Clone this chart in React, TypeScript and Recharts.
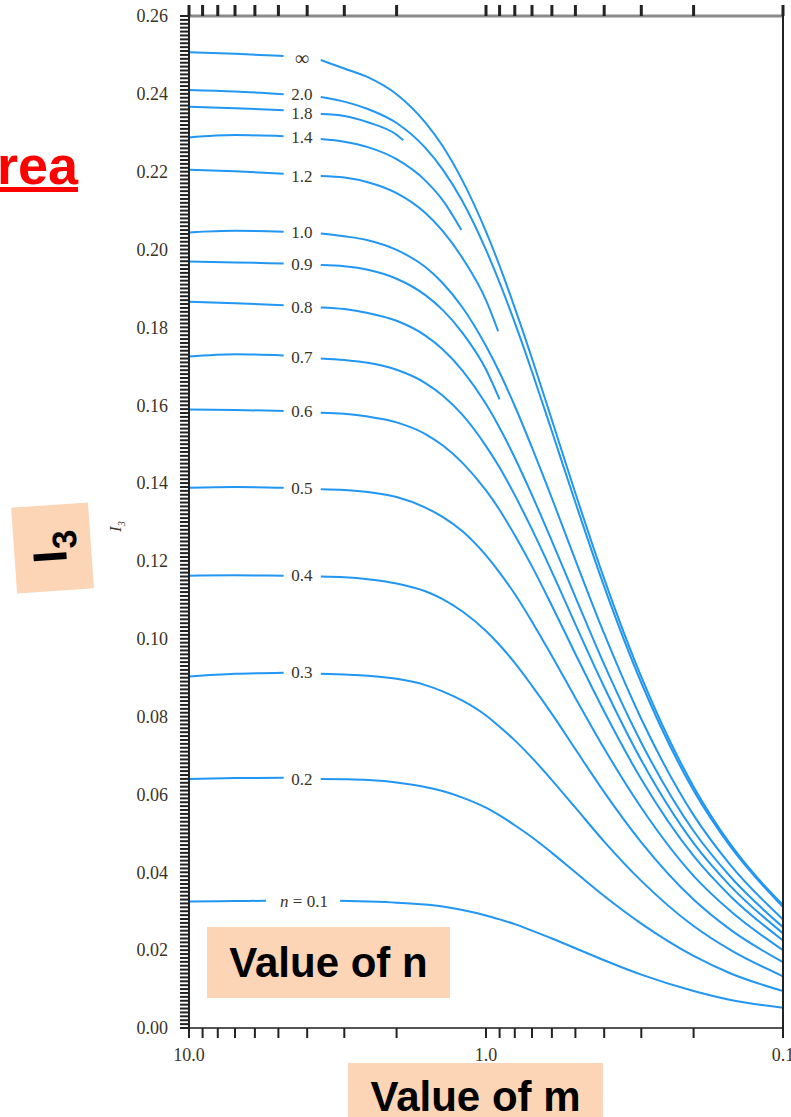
import React from 'react';
import { ComposedChart, Line, Scatter, XAxis, YAxis } from 'recharts';

// m values (log axis, 10 -> 0.1)
const M_LEFT = [10, 7, 4.8];
const M_RIGHT = [3.6, 3, 2.5, 2, 1.6, 1.4, 1.2, 1.0, 0.9, 0.8, 0.7, 0.6, 0.5, 0.4, 0.3, 0.2, 0.15, 0.1];
const M_RIGHT_18 = [3.6, 3, 2.5, 2, 1.9];
const M_RIGHT_14 = [3.6, 3, 2.5, 2, 1.6, 1.4, 1.21];
const M_RIGHT_12 = [3.6, 3, 2.5, 2, 1.6, 1.4, 1.2, 1.0, 0.91];
const M_RIGHT_09 = [3.6, 3, 2.5, 2, 1.6, 1.4, 1.2, 1.0, 0.9];
const M_LEFT_01 = [10, 7, 5.5];
const M_RIGHT_01 = [3.1, 2.5, 2, 1.6, 1.4, 1.2, 1.0, 0.9, 0.8, 0.7, 0.6, 0.5, 0.4, 0.3, 0.2, 0.15, 0.1];

// I3 values, per n
const INF_L = [0.2507, 0.2503, 0.2497];
const INF_R = [0.2487, 0.2465, 0.2443, 0.2399, 0.2326, 0.2266, 0.2177, 0.2046, 0.1958, 0.185, 0.172, 0.1562, 0.1374, 0.1154, 0.0902, 0.062, 0.0471, 0.0316];
const N20_L = [0.241, 0.2406, 0.2399];
const N20_R = [0.2392, 0.238, 0.2361, 0.2325, 0.2261, 0.2206, 0.2124, 0.1999, 0.1915, 0.1812, 0.1686, 0.1533, 0.135, 0.1134, 0.0887, 0.061, 0.0465, 0.0311];
const N18_L = [0.2367, 0.2363, 0.2358];
const N18_R = [0.2348, 0.2343, 0.2327, 0.2295, 0.2281];
const N14_L = [0.2288, 0.2294, 0.2291];
const N14_R = [0.2284, 0.2277, 0.2263, 0.2232, 0.2177, 0.2127, 0.205];
const N12_L = [0.2205, 0.2201, 0.2195];
const N12_R = [0.2189, 0.2185, 0.2173, 0.2145, 0.2094, 0.2048, 0.1978, 0.187, 0.179];
const N10_L = [0.2044, 0.2048, 0.2046];
const N10_R = [0.2041, 0.2034, 0.2024, 0.1999, 0.1955, 0.1914, 0.1851, 0.1752, 0.1684, 0.1598, 0.1491, 0.1361, 0.1202, 0.1013, 0.0794, 0.0547, 0.0418, 0.0279];
const N09_L = [0.1969, 0.1967, 0.1964];
const N09_R = [0.196, 0.1957, 0.1948, 0.1925, 0.1883, 0.1845, 0.1786, 0.1692, 0.1615];
const N08_L = [0.1866, 0.1862, 0.1857];
const N08_R = [0.1851, 0.1847, 0.1837, 0.1817, 0.1779, 0.1744, 0.1689, 0.1603, 0.1542, 0.1465, 0.1369, 0.1251, 0.1107, 0.0934, 0.0733, 0.0506, 0.0388, 0.0259];
const N07_L = [0.1725, 0.1731, 0.1728];
const N07_R = [0.172, 0.1716, 0.1709, 0.1691, 0.1657, 0.1625, 0.1575, 0.1495, 0.144, 0.1369, 0.1281, 0.1172, 0.1037, 0.0876, 0.0688, 0.0475, 0.0364, 0.0243];
const N06_L = [0.1589, 0.1588, 0.1585];
const N06_R = [0.1581, 0.1578, 0.1571, 0.1556, 0.1526, 0.1497, 0.1452, 0.1381, 0.1331, 0.1266, 0.1186, 0.1085, 0.0961, 0.0813, 0.0639, 0.0442, 0.0338, 0.0225];
const N05_L = [0.1388, 0.139, 0.1388];
const N05_R = [0.1384, 0.1382, 0.1377, 0.1364, 0.1337, 0.1313, 0.1276, 0.1214, 0.117, 0.1115, 0.1044, 0.0956, 0.0848, 0.0718, 0.0566, 0.0391, 0.03, 0.02];
const N04_L = [0.1162, 0.1163, 0.1162];
const N04_R = [0.116, 0.1158, 0.1153, 0.1142, 0.1122, 0.1102, 0.107, 0.102, 0.0984, 0.0938, 0.0879, 0.0807, 0.0716, 0.0606, 0.0477, 0.033, 0.0252, 0.0169];
const N03_L = [0.0903, 0.091, 0.0913];
const N03_R = [0.091, 0.0908, 0.0905, 0.0897, 0.0881, 0.0865, 0.0841, 0.0803, 0.0774, 0.0739, 0.0694, 0.0637, 0.0566, 0.0479, 0.0378, 0.0262, 0.02, 0.0133];
const N02_L = [0.064, 0.0642, 0.0643];
const N02_R = [0.064, 0.0639, 0.0637, 0.0631, 0.0619, 0.0609, 0.0592, 0.0566, 0.0546, 0.0521, 0.049, 0.045, 0.04, 0.0339, 0.0268, 0.0185, 0.014, 0.0095];
const N01_L = [0.0325, 0.0326, 0.0327];
const N01_R = [0.0327, 0.0325, 0.0322, 0.0317, 0.0312, 0.0303, 0.0289, 0.0279, 0.0267, 0.025, 0.023, 0.0205, 0.0174, 0.0137, 0.0095, 0.0072, 0.0052];

// curve labels (placed in the gap of each curve)
const LABEL_TEXT = ['∞', '2.0', '1.8', '1.4', '1.2', '1.0', '0.9', '0.8', '0.7', '0.6', '0.5', '0.4', '0.3', '0.2', 'n = 0.1'];
const LABEL_M = [4.17, 4.17, 4.17, 4.17, 4.17, 4.17, 4.17, 4.17, 4.17, 4.17, 4.17, 4.17, 4.17, 4.17, 4.1];
const LABEL_V = [0.2492, 0.2399, 0.2351, 0.2289, 0.2188, 0.2044, 0.1962, 0.1852, 0.1724, 0.1584, 0.1386, 0.1162, 0.0913, 0.064, 0.0327];

const X_TICKS = [10, 9, 8, 7, 6, 5, 4, 3, 2, 1, 0.9, 0.8, 0.7, 0.6, 0.5, 0.4, 0.3, 0.2, 0.1];
const Y_TICKS = Array.from({ length: 261 }, (_, i) => i / 1000);

const CURVES = [
  { id: 'inf', lm: M_LEFT, l: INF_L, rm: M_RIGHT, r: INF_R },
  { id: 'n20', lm: M_LEFT, l: N20_L, rm: M_RIGHT, r: N20_R },
  { id: 'n18', lm: M_LEFT, l: N18_L, rm: M_RIGHT_18, r: N18_R },
  { id: 'n14', lm: M_LEFT, l: N14_L, rm: M_RIGHT_14, r: N14_R },
  { id: 'n12', lm: M_LEFT, l: N12_L, rm: M_RIGHT_12, r: N12_R },
  { id: 'n10', lm: M_LEFT, l: N10_L, rm: M_RIGHT, r: N10_R },
  { id: 'n09', lm: M_LEFT, l: N09_L, rm: M_RIGHT_09, r: N09_R },
  { id: 'n08', lm: M_LEFT, l: N08_L, rm: M_RIGHT, r: N08_R },
  { id: 'n07', lm: M_LEFT, l: N07_L, rm: M_RIGHT, r: N07_R },
  { id: 'n06', lm: M_LEFT, l: N06_L, rm: M_RIGHT, r: N06_R },
  { id: 'n05', lm: M_LEFT, l: N05_L, rm: M_RIGHT, r: N05_R },
  { id: 'n04', lm: M_LEFT, l: N04_L, rm: M_RIGHT, r: N04_R },
  { id: 'n03', lm: M_LEFT, l: N03_L, rm: M_RIGHT, r: N03_R },
  { id: 'n02', lm: M_LEFT, l: N02_L, rm: M_RIGHT, r: N02_R },
  { id: 'n01', lm: M_LEFT_01, l: N01_L, rm: M_RIGHT_01, r: N01_R },
];

const series = CURVES.map(c => ({
  id: c.id,
  data: [
    ...c.l.map((v, i) => ({ m: c.lm[i], v })),
    { m: 4.2, v: null },
    ...c.r.map((v, i) => ({ m: c.rm[i], v })),
  ],
}));

const labelData = LABEL_TEXT.map((text, i) => ({ m: LABEL_M[i], v: LABEL_V[i], text }));

const BLUE = '#2196f3';
const INK = '#3b3326';
const SERIF = '"Liberation Serif", "Times New Roman", serif';
const SANS = '"Liberation Sans", Arial, sans-serif';
const PEACH = '#fbd5b5';

const fmtX = (v: number) => (v === 10 ? '10.0' : v === 1 ? '1.0' : v === 0.1 ? '0.1' : '');
const noLabel = () => '';

const YTick = (props: any) => {
  const { x, y, payload } = props;
  const k = Math.round(payload.value * 1000);
  if (k % 20 !== 0) return <g />;
  return (
    <text x={x} y={y} dy="0.35em" textAnchor="end" fontFamily={SERIF} fontSize={18} fill={INK}>
      {(k / 1000).toFixed(2)}
    </text>
  );
};

const CurveLabel = (props: any) => {
  const { cx, cy, payload } = props;
  if (payload.text === 'n = 0.1') {
    return (
      <text x={cx} y={cy} dy="0.35em" textAnchor="middle" fontFamily={SERIF} fontSize={17} fill={INK}>
        <tspan fontStyle="italic">n</tspan> = 0.1
      </text>
    );
  }
  return (
    <text x={cx} y={cy} dy="0.33em" textAnchor="middle" fontFamily={SERIF} fontSize={payload.text === '∞' ? 20 : 17} fill={INK}>
      {payload.text}
    </text>
  );
};

export default function App() {
  return (
    <div style={{ position: 'absolute', left: 0, top: 0, width: 791, height: 1117, overflow: 'hidden', background: '#fff' }}>
      <ComposedChart width={791} height={1117} margin={{ top: 0, right: 0, bottom: 0, left: 0 }}>
        <XAxis
          xAxisId="b"
          type="number"
          dataKey="m"
          scale="log"
          domain={[0.1, 10]}
          reversed
          allowDataOverflow
          ticks={X_TICKS}
          interval={0}
          height={89}
          tickSize={10}
          tickMargin={10}
          tickFormatter={fmtX}
          tick={{ fontFamily: SERIF, fontSize: 18, fill: INK }}
          axisLine={{ stroke: '#555', strokeWidth: 2 }}
          tickLine={{ stroke: '#222', strokeWidth: 2 }}
        />
        <XAxis
          xAxisId="t"
          orientation="top"
          type="number"
          dataKey="m"
          scale="log"
          domain={[0.1, 10]}
          reversed
          allowDataOverflow
          ticks={X_TICKS}
          interval={0}
          height={16}
          tickSize={11}
          tickFormatter={noLabel}
          axisLine={{ stroke: '#8a8a8a', strokeWidth: 3 }}
          tickLine={{ stroke: '#222', strokeWidth: 3 }}
        />
        <YAxis
          yAxisId="l"
          type="number"
          domain={[0, 0.26]}
          ticks={Y_TICKS}
          interval={0}
          width={189}
          tickSize={9}
          tickMargin={12}
          tick={<YTick />}
          axisLine={{ stroke: '#222', strokeWidth: 2 }}
          tickLine={{ stroke: '#222', strokeWidth: 2 }}
        />
        <YAxis
          yAxisId="r"
          orientation="right"
          type="number"
          domain={[0, 0.26]}
          ticks={Y_TICKS}
          interval={0}
          width={8}
          tickSize={8}
          tickFormatter={noLabel}
          axisLine={{ stroke: '#222', strokeWidth: 2 }}
          tickLine={{ stroke: '#222', strokeWidth: 2 }}
        />
        {series.map(s => (
          <Line
            key={s.id}
            xAxisId="b"
            yAxisId="l"
            data={s.data}
            dataKey="v"
            type="monotone"
            stroke={BLUE}
            strokeWidth={2}
            dot={false}
            activeDot={false}
            connectNulls={false}
            isAnimationActive={false}
          />
        ))}
        <Scatter
          xAxisId="b"
          yAxisId="l"
          data={labelData}
          dataKey="v"
          shape={<CurveLabel />}
          isAnimationActive={false}
        />
      </ComposedChart>

      {/* small original axis label */}
      <div style={{ position: 'absolute', left: 104, top: 510, width: 24, height: 20, transform: 'rotate(-90deg)', fontFamily: SERIF, fontStyle: 'italic', fontSize: 17, color: INK, lineHeight: '20px' }}>
        I<sub style={{ fontSize: 10 }}>3</sub>
      </div>

      {/* cut-off heading */}
      <div style={{ position: 'absolute', right: 713, top: 132, fontFamily: SANS, fontWeight: 700, fontSize: 54, color: '#ff0000', textDecoration: 'underline', whiteSpace: 'nowrap', lineHeight: '66px' }}>
        Area
      </div>

      {/* I3 box */}
      <div style={{ position: 'absolute', left: 14, top: 505, width: 77, height: 86, background: PEACH, transform: 'rotate(-4deg)' }}>
        <div style={{ position: 'absolute', left: 0, top: 0, width: 86, height: 77, transform: 'translate(-4px, 4px) rotate(-90deg)', transformOrigin: '43px 38px', display: 'flex', alignItems: 'center', justifyContent: 'center', fontFamily: SANS, fontWeight: 700, fontSize: 48, color: '#000' }}>
          <span>I<sub style={{ fontSize: 34 }}>3</sub></span>
        </div>
      </div>

      {/* Value of n */}
      <div style={{ position: 'absolute', left: 207, top: 927, width: 243, height: 71, background: PEACH, display: 'flex', alignItems: 'center', justifyContent: 'center', fontFamily: SANS, fontWeight: 700, fontSize: 42, color: '#000' }}>
        Value of n
      </div>

      {/* Value of m */}
      <div style={{ position: 'absolute', left: 348, top: 1063, width: 255, height: 60, background: PEACH, display: 'flex', justifyContent: 'center', fontFamily: SANS, fontWeight: 700, fontSize: 42, color: '#000', lineHeight: '68px' }}>
        Value of m
      </div>
    </div>
  );
}
